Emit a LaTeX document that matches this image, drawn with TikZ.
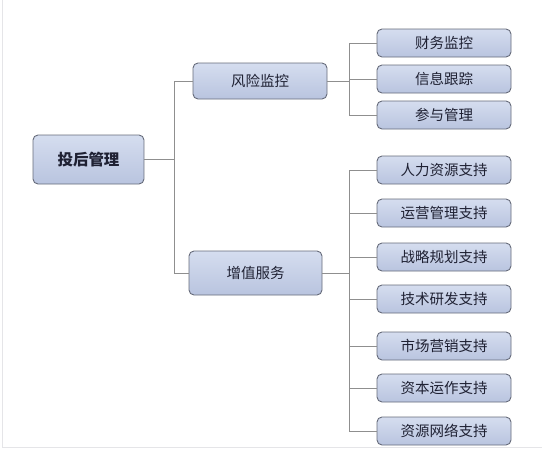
\documentclass[tikz,border=0pt]{standalone}
\usepackage{fontspec}
\setmainfont{Noto Sans CJK SC}
\newlength{\du}
\setlength{\du}{1pt}
\definecolor{boxtop}{rgb}{0.835000, 0.867000, 0.937000}
\definecolor{boxbottom}{rgb}{0.725000, 0.769000, 0.875000}
\definecolor{boxline}{rgb}{0.400000, 0.420000, 0.480000}
\definecolor{linkcolor}{rgb}{0.560000, 0.560000, 0.560000}
\definecolor{framecolor}{rgb}{0.900000, 0.900000, 0.910000}
\definecolor{textcolor}{rgb}{0.120000, 0.130000, 0.200000}
\tikzset{
  tbox/.style={draw=boxline, line width=0.9\du, rounded corners=5\du,
    top color=boxtop, bottom color=boxbottom, text=textcolor,
    inner sep=0pt, font=\fontsize{14.5}{16}\selectfont},
  rootbox/.style={tbox, minimum width=111\du, minimum height=49\du,
    font=\fontsize{15.5}{17}\selectfont\bfseries},
  midbox/.style={tbox, minimum width=134\du},
  leafbox/.style={tbox, minimum width=134\du, minimum height=28\du},
  link/.style={draw=linkcolor, line width=1\du},
}
\begin{document}
\begin{tikzpicture}[yscale=-1]
\useasboundingbox (0\du,0\du) rectangle (542\du,472\du);
% frame
\draw[framecolor, line width=1\du] (2.5\du,0\du)--(2.5\du,447\du)--(542\du,447\du);
% boxes
\node[rootbox] (root) at (88.5\du,159.5\du) {投后管理};
\node[midbox, minimum height=36\du] (risk) at (260\du,81\du) {风险监控};
\node[midbox, minimum height=44\du, minimum width=133\du] (value) at (255.5\du,273\du) {增值服务};
\node[leafbox] (fin) at (444\du,43\du) {财务监控};
\node[leafbox] (info) at (444\du,79\du) {信息跟踪};
\node[leafbox] (join) at (444\du,115\du) {参与管理};
\node[leafbox] (hr) at (444\du,170\du) {人力资源支持};
\node[leafbox] (ops) at (444\du,213\du) {运营管理支持};
\node[leafbox] (plan) at (444\du,257\du) {战略规划支持};
\node[leafbox] (tech) at (444\du,299\du) {技术研发支持};
\node[leafbox] (mkt) at (444\du,346\du) {市场营销支持};
\node[leafbox] (cap) at (444\du,388\du) {资本运作支持};
\node[leafbox] (net) at (444\du,431\du) {资源网络支持};
% connectors
\coordinate (jroot) at (174\du,159.5\du);
\coordinate (jrisk) at (349\du,81\du);
\coordinate (jvalue) at (349\du,273\du);
\draw[link] (root.east)--(jroot);
\draw[link] (risk.west)-|(jroot);
\draw[link] (value.west)-|(jroot);
\draw[link] (risk.east)--(jrisk);
\foreach \n in {fin,info,join}
  \draw[link] (\n.west)-|(jrisk);
\draw[link] (value.east)--(jvalue);
\foreach \n in {hr,ops,plan,tech,mkt,cap,net}
  \draw[link] (\n.west)-|(jvalue);
\end{tikzpicture}
\end{document}
